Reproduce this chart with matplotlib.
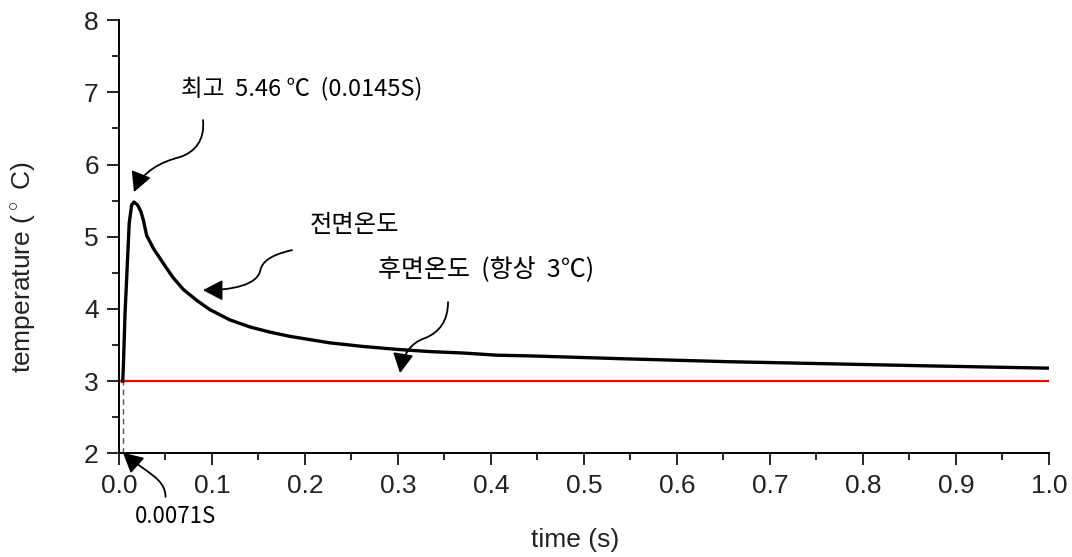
import matplotlib
matplotlib.use('Agg')
import matplotlib.pyplot as plt
from matplotlib.ticker import MultipleLocator
from matplotlib.patches import FancyArrowPatch, ArrowStyle
from matplotlib.path import Path

plt.rcParams['font.family'] = ['Liberation Sans', 'DejaVu Sans']
plt.rcParams['mathtext.fontset'] = 'custom'
plt.rcParams['mathtext.rm'] = 'Liberation Sans'

# front surface temperature
time = [0.004, 0.0047, 0.0065, 0.009, 0.011, 0.0136, 0.0161, 0.0200, 0.0235,
        0.0262, 0.0297, 0.0369, 0.0477, 0.0584, 0.0692, 0.0835, 0.0978, 0.119,
        0.141, 0.162, 0.184, 0.227, 0.263, 0.299, 0.334, 0.370, 0.406, 0.442,
        0.543, 0.654, 0.766, 0.877, 1.0]
front = [3.0, 3.20, 3.94, 4.63, 5.19, 5.44, 5.48, 5.44, 5.35,
         5.23, 5.02, 4.84, 4.63, 4.43, 4.27, 4.12, 3.99, 3.85,
         3.75, 3.68, 3.62, 3.53, 3.48, 3.44, 3.41, 3.39, 3.36, 3.35,
         3.31, 3.27, 3.24, 3.21, 3.18]
# back surface stays at 3 C
back_t = [0.0, 1.0]
back = [3.0, 3.0]
t_start = 0.004

kor = ['Noto Sans CJK KR', 'DejaVu Sans']

fig = plt.figure(figsize=(10.72, 5.57), dpi=100)
ax = fig.add_axes([0.111, 0.186, 0.8675, 0.778])

ax.plot(back_t, back, color='#ff0000', lw=1.6, zorder=2)
ax.plot(time, front, color='black', lw=2.4, zorder=3)
ax.plot([t_start, t_start], [2, 3], color='#555555', lw=1, ls=(0, (4, 3)), zorder=1)

ax.set_xlim(0, 1.0)
ax.set_ylim(2, 8)
ax.xaxis.set_major_locator(MultipleLocator(0.1))
ax.xaxis.set_minor_locator(MultipleLocator(0.05))
ax.yaxis.set_major_locator(MultipleLocator(1))
ax.yaxis.set_minor_locator(MultipleLocator(0.5))
ax.xaxis.set_major_formatter(plt.FuncFormatter(lambda v, p: '%.1f' % v))
ax.yaxis.set_major_formatter(plt.FuncFormatter(lambda v, p: '%d' % v))
for s in ['top', 'right']:
    ax.spines[s].set_visible(False)
for s in ['left', 'bottom']:
    ax.spines[s].set_linewidth(1.4)
ax.tick_params(which='major', direction='out', length=8.5, width=1.2, labelsize=19,
               labelcolor='#222222', pad=6)
ax.tick_params(which='minor', direction='out', length=5, width=1.2)
ax.set_xlabel('time (s)', fontsize=19, color='#222222')
ax.set_ylabel('temperature ($^\\circ$ C)', fontsize=19, color='#222222')
ax.xaxis.set_label_coords(0.49, -0.173)
ax.yaxis.set_label_coords(-0.087, 0.43)


def curvy_arrow(pts, clip=True):
    codes = [Path.MOVETO] + [Path.CURVE4] * (len(pts) - 1)
    a = FancyArrowPatch(path=Path(pts, codes),
                        arrowstyle=ArrowStyle('-|>', head_length=0.8, head_width=0.42),
                        mutation_scale=15, color='black', lw=1.3)
    a.set_clip_on(clip)
    ax.add_patch(a)


curvy_arrow([(0.0903, 6.615), (0.0925, 6.338), (0.0817, 6.172), (0.0656, 6.103),
             (0.0441, 6.033), (0.0247, 5.895), (0.0161, 5.618)])
curvy_arrow([(0.186, 4.814), (0.162, 4.745), (0.154, 4.648), (0.152, 4.537),
             (0.149, 4.330), (0.1215, 4.260), (0.0903, 4.260)])
curvy_arrow([(0.3538, 4.094), (0.3538, 3.845), (0.3452, 3.679), (0.329, 3.596),
             (0.3129, 3.526), (0.3054, 3.360), (0.3022, 3.111)])
curvy_arrow([(0.0500, 1.398), (0.0500, 1.660), (0.0280, 1.740), (0.0043, 2.01)],
            clip=False)

ax.text(0.0667, 7.058, '최고  5.46 ℃  (0.0145S)', family=kor, fontsize=17,
        ha='left', va='center')
ax.text(0.2054, 5.161, '전면온도', family=kor, fontsize=17.5, ha='left', va='center')
ax.text(0.2785, 4.537, '후면온도  (항상  3℃)', family=kor, fontsize=18,
        ha='left', va='center')
ax.text(0.0172, 1.13, '0.0071S', family=kor, fontsize=16, ha='left', va='center',
        clip_on=False)

fig.savefig('out.png', dpi=100)
